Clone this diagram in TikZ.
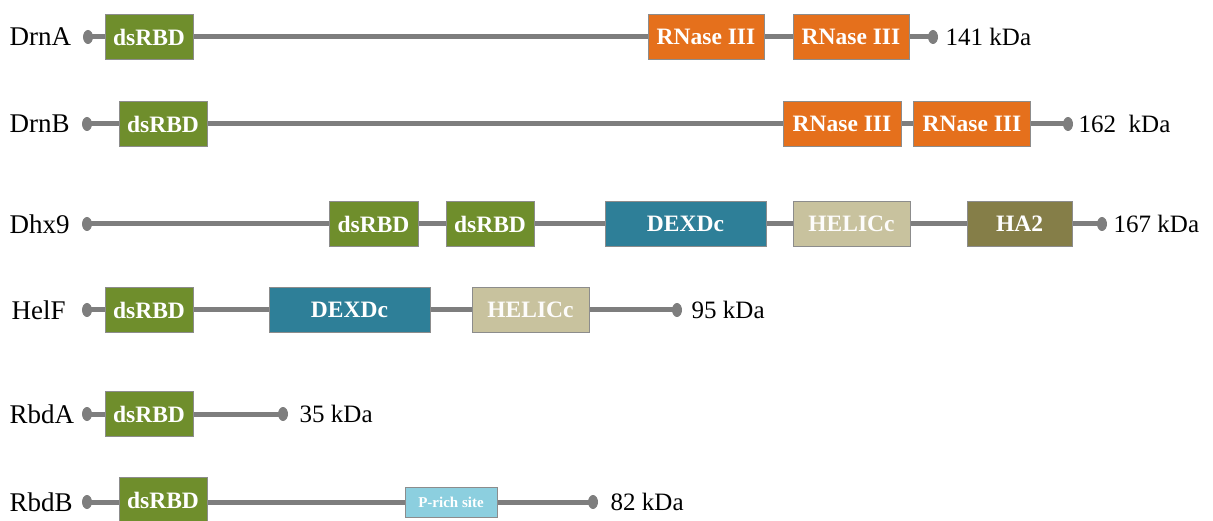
\documentclass[tikz,border=0pt]{standalone}
\usepackage{fontspec}
\setmainfont{Liberation Serif}
\usetikzlibrary{positioning,backgrounds,shapes.geometric}
\definecolor{rbd}{HTML}{6F8E2C}
\definecolor{rnase}{HTML}{E5701C}
\definecolor{dexd}{HTML}{2E7F98}
\definecolor{helic}{HTML}{C8C29E}
\definecolor{hatwo}{HTML}{857E48}
\definecolor{prich}{HTML}{8CCFDF}
\definecolor{chain}{HTML}{7E7E7E}

\begin{document}
\begin{tikzpicture}[x=1pt,y=-1pt,node distance=6pt,
  every node/.style={font=\fontsize{25}{28}\selectfont},
  dom/.style={draw=black!45,line width=0.8pt,minimum height=45pt,inner sep=0pt,text=white,font=\fontsize{23.5}{26}\selectfont\bfseries},
  rbdbox/.style={dom,fill=rbd,minimum width=88pt},
  rnasebox/.style={dom,fill=rnase,minimum width=116pt},
  dexdbox/.style={dom,fill=dexd,minimum width=161pt},
  helicbox/.style={dom,fill=helic,minimum width=117pt,text=white!96!helic},
  habox/.style={dom,fill=hatwo,minimum width=105pt},
  pbox/.style={dom,fill=prich,minimum width=92pt,minimum height=30pt,font=\fontsize{15}{17}\selectfont\bfseries},
  knob/.style={ellipse,fill=chain,inner sep=0pt,minimum width=10pt,minimum height=14pt},
  prot/.style={anchor=west,font=\fontsize{27}{30}\selectfont},
  mass/.style={anchor=west},
  backbone/.style={draw=chain,line width=5pt}]
\useasboundingbox (0,0) rectangle (1213,521);

% DrnA
\node[prot] (nA) at (6,37) {DrnA};
\node[knob] (sA) at (88,37) {};
\node[rbdbox] (a1) at (149,37) {dsRBD};
\node[rnasebox] (a2) at (706,37) {RNase III};
\node[rnasebox] (a3) at (851,37) {RNase III};
\node[knob] (eA) at (933,37) {};
\node[mass,right=4pt of eA] (mA) {141 kDa};

% DrnB
\node[prot] (nB) at (6,124) {DrnB};
\node[knob] (sB) at (87,124) {};
\node[rbdbox] (b1) at (163,124) {dsRBD};
\node[rnasebox,minimum width=118pt] (b2) at (842,124) {RNase III};
\node[rnasebox,minimum width=117pt] (b3) at (972,124) {RNase III};
\node[knob] (eB) at (1068,124) {};
\node[mass,right=2pt of eB] (mB) {162~ kDa};

% Dhx9
\node[prot] (nC) at (6,224) {Dhx9};
\node[knob] (sC) at (87,224) {};
\node[rbdbox,minimum width=89pt] (c1) at (373.5,224) {dsRBD};
\node[rbdbox] (c2) at (490,224) {dsRBD};
\node[dexdbox] (c3) at (685.5,224) {DEXDc};
\node[helicbox] (c4) at (851.5,224) {HELICc};
\node[habox] (c5) at (1019.5,224) {HA2};
\node[knob] (eC) at (1102,224) {};
\node[mass,right=3pt of eC] (mC) {167 kDa};

% HelF
\node[prot] (nD) at (8,310) {HelF};
\node[knob] (sD) at (87,310) {};
\node[rbdbox] (d1) at (149,310) {dsRBD};
\node[dexdbox] (d2) at (349.5,310) {DEXDc};
\node[helicbox] (d3) at (530.5,310) {HELICc};
\node[knob] (eD) at (677,310) {};
\node[mass,right=6pt of eD] (mD) {95 kDa};

% RbdA
\node[prot] (nE) at (6,414) {RbdA};
\node[knob] (sE) at (87,414) {};
\node[rbdbox] (e1) at (149,414) {dsRBD};
\node[knob] (eE) at (283,414) {};
\node[mass,right=8pt of eE] (mE) {35 kDa};

% RbdB
\node[prot] (nF) at (6,502) {RbdB};
\node[knob] (sF) at (87,502) {};
\node[rbdbox] (f1) at (163,500) {dsRBD};
\node[pbox] (f2) at (451,502) {P-rich site};
\node[knob] (eF) at (593,502) {};
\node[mass,right=9pt of eF] (mF) {82 kDa};

\begin{scope}[on background layer]
\draw[backbone] (sA.center) -- (eA.center);
\draw[backbone] (sB.center) -- (eB.center);
\draw[backbone] (sC.center) -- (eC.center);
\draw[backbone] (sD.center) -- (eD.center);
\draw[backbone] (sE.center) -- (eE.center);
\draw[backbone] (sF.center) -- (eF.center);
\end{scope}
\end{tikzpicture}
\end{document}
